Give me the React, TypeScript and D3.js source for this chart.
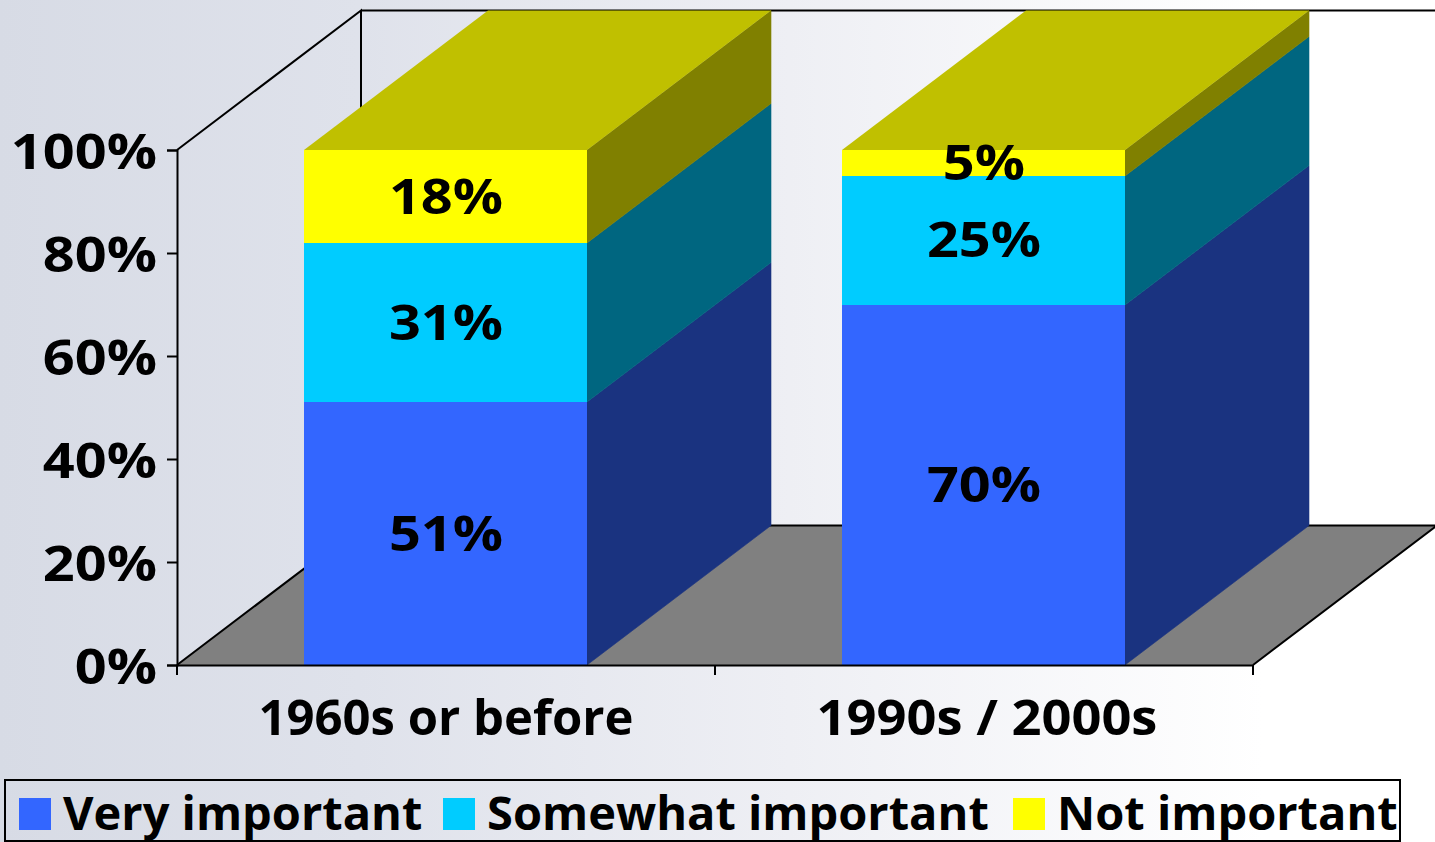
import { useEffect, useRef } from 'react';
import * as d3 from 'd3';

const categories = ['1960s or before', '1990s / 2000s'];
const seriesNames = ['Very important', 'Somewhat important', 'Not important'];
const veryImportant = [51, 70];
const somewhatImportant = [31, 25];
const notImportant = [18, 5];
const yTicks = [0, 20, 40, 60, 80, 100];

const frontColors = ['#3366ff', '#00ccff', '#ffff00'];
const sideColors = ['#1a3380', '#006680', '#808000'];
const topColor = '#c0c000';

const WIDTH = 1435;
const HEIGHT = 842;
const FONT = '"Open Sans", "Noto Sans", sans-serif';

// depth of the 3D box
const DX = 184;
const DY = -139.5;
// percent labels are wider than Open Sans, stretch them a bit
const STRETCH = 1.14;

export default function App() {
  const svgRef = useRef<SVGSVGElement>(null);

  useEffect(() => {
    if (!svgRef.current) return;
    const svg = d3.select(svgRef.current);
    svg.selectAll('*').remove();

    const defs = svg.append('defs');
    const grad = defs.append('linearGradient').attr('id', 'bg').attr('x1', 0).attr('x2', 1).attr('y1', 0).attr('y2', 0);
    grad.append('stop').attr('offset', '0%').attr('stop-color', '#d7dbe5');
    grad.append('stop').attr('offset', '25%').attr('stop-color', '#dfe2eb');
    grad.append('stop').attr('offset', '55%').attr('stop-color', '#eeeff4');
    grad.append('stop').attr('offset', '88%').attr('stop-color', '#ffffff');
    grad.append('stop').attr('offset', '100%').attr('stop-color', '#ffffff');
    svg.append('rect').attr('width', WIDTH).attr('height', HEIGHT).attr('fill', 'url(#bg)');

    const x = d3.scaleBand<string>().domain(categories).range([177, 1253]).paddingInner(0.474).paddingOuter(0.237);
    const y = d3.scaleLinear().domain([0, 100]).range([665, 150]);

    const poly = (pts: [number, number][]) => d3.line()(pts) + 'Z';
    const stretch = (sel: any, k: number = STRETCH) => {
      sel.each(function (this: any) {
        const t = d3.select(this);
        t.attr('textLength', this.getComputedTextLength() * k).attr('lengthAdjust', 'spacingAndGlyphs');
      });
    };

    // walls and floor
    const x0 = x.range()[0];
    const x1 = x.range()[1];
    const y0 = y(0);
    const y100 = y(100);
    svg.append('path')
      .attr('d', poly([[x0, y0], [x1, y0], [x1 + DX, y0 + DY], [x0 + DX, y0 + DY]]))
      .attr('fill', '#808080');
    const wall = svg.append('g').attr('fill', 'none').attr('stroke', '#000').attr('stroke-width', 2);
    wall.append('path').attr('d', d3.line()([[x0, y100], [x0 + DX, y100 + DY], [x0 + DX, y0 + DY]]) as string);
    wall.append('path').attr('d', d3.line()([[x0, y0], [x0 + DX, y0 + DY], [x1 + DX, y0 + DY], [x1, y0]]) as string);
    wall.append('path').attr('d', d3.line()([[x0 + DX, y100 + DY], [WIDTH, y100 + DY]]) as string);

    // stacked bars
    const rows = categories.map((c, i) => ({
      category: c,
      s0: veryImportant[i],
      s1: somewhatImportant[i],
      s2: notImportant[i],
    }));
    const stack = d3.stack<any>().keys(['s0', 's1', 's2'])(rows);
    const bars = svg.append('g');
    stack.forEach((layer, li) => {
      layer.forEach((d: any) => {
        const bx = Math.floor(x(d.data.category) as number);
        const bw = Math.round(x.bandwidth());
        const yTop = Math.round(y(d[1]));
        const yBot = Math.round(y(d[0]));
        // stroke hides the hairline seams between the side faces
        bars.append('path')
          .attr('d', poly([[bx + bw, yBot], [bx + bw + DX, yBot + DY], [bx + bw + DX, yTop + DY], [bx + bw, yTop]]))
          .attr('fill', sideColors[li])
          .attr('stroke', sideColors[li])
          .attr('stroke-width', 0.6);
        if (li === stack.length - 1) {
          bars.append('path')
            .attr('d', poly([[bx, yTop], [bx + DX, yTop + DY], [bx + bw + DX, yTop + DY], [bx + bw, yTop]]))
            .attr('fill', topColor);
        }
        bars.append('rect')
          .attr('x', bx).attr('y', yTop).attr('width', bw).attr('height', yBot - yTop)
          .attr('fill', frontColors[li]);
      });
    });

    // axes
    const yAxis = d3.axisLeft(y).tickValues(yTicks).tickSize(10).tickPadding(10).tickFormat((d) => `${d}%`);
    const yg = svg.append('g').attr('transform', `translate(${x0},0)`).call(yAxis);
    yg.selectAll('text')
      .attr('font-size', 49).attr('font-weight', 700).attr('font-family', FONT).attr('fill', '#000')
      .attr('dy', '0.35em').attr('y', 1)
      .call(stretch);

    const xAxis = d3.axisBottom(x).tickSize(0);
    const xg = svg.append('g').attr('transform', `translate(0,${y0})`).call(xAxis);
    xg.selectAll('text')
      .attr('font-size', 49).attr('font-weight', 700).attr('font-family', FONT).attr('fill', '#000')
      .attr('y', 70).attr('dy', 0);
    // second label runs wider in the reference
    xg.selectAll('text').filter((d) => d === categories[1]).attr('x', 3).call((s: any) => stretch(s, 1.07));
    const step = x.step();
    const xTicks = [x0, x0 + step, x1];
    xg.selectAll('line.sep').data(xTicks).join('line').attr('class', 'sep')
      .attr('x1', (d) => d).attr('x2', (d) => d).attr('y1', 0).attr('y2', 10);
    svg.selectAll('.domain, .tick line, line.sep').attr('stroke', '#000').attr('stroke-width', 2);

    // value labels
    const labels = svg.append('g').attr('text-anchor', 'middle').attr('font-size', 49).attr('font-weight', 700).attr('font-family', FONT).attr('fill', '#000');
    stack.forEach((layer) => {
      layer.forEach((d: any) => {
        labels.append('text')
          .attr('x', (x(d.data.category) as number) + x.bandwidth() / 2)
          .attr('y', (y(d[0]) + y(d[1])) / 2)
          .attr('dy', '0.35em')
          .text(`${d[1] - d[0]}%`)
          .call(stretch);
      });
    });

    // legend
    const legend = svg.append('g');
    legend.append('rect').attr('x', 5).attr('y', 780).attr('width', 1395).attr('height', 61).attr('fill', 'none').attr('stroke', '#000').attr('stroke-width', 2);
    const swatchX = [19, 443, 1013];
    seriesNames.forEach((name, i) => {
      legend.append('rect').attr('x', swatchX[i]).attr('y', 798).attr('width', 32).attr('height', 32).attr('fill', frontColors[i]);
      legend.append('text').attr('x', swatchX[i] + 44).attr('y', 830)
        .attr('font-size', 47).attr('font-weight', 700).attr('font-family', FONT).attr('fill', '#000')
        .text(name);
    });
  }, []);

  return (
    <svg
      ref={svgRef}
      width={WIDTH}
      height={HEIGHT}
      style={{ position: 'absolute', left: 0, top: 0, display: 'block' }}
    />
  );
}
